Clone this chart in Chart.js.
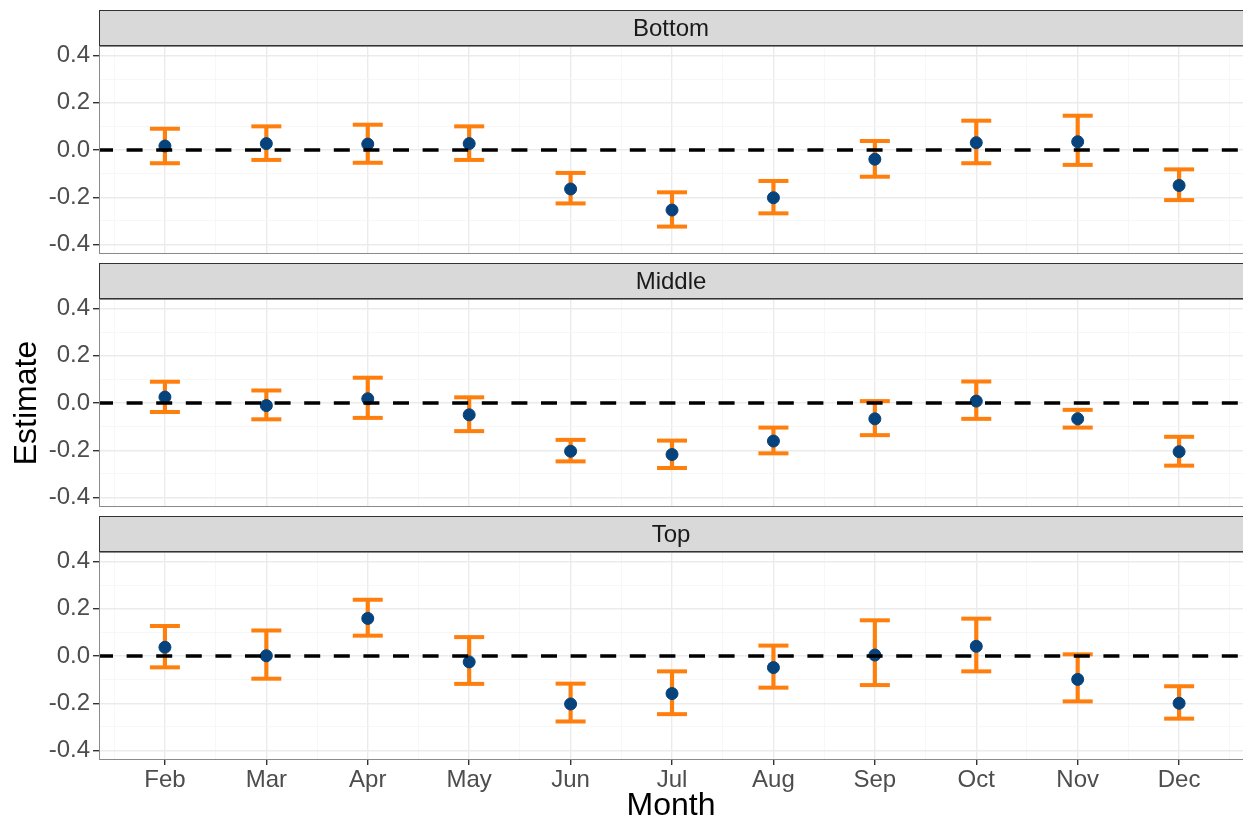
<!DOCTYPE html>
<html>
<head>
<meta charset="utf-8">
<script src="https://cdn.jsdelivr.net/npm/chart.js@4/dist/chart.umd.min.js"></script>
<style>
  body { margin: 0; background: #fff; overflow: hidden; }
  #wrap { position: relative; width: 1243px; height: 825px; }
  canvas { position: absolute; left: 0; }
</style>
</head>
<body>
<div id="wrap">
  <canvas id="p1" width="1243" height="256" style="top:0px"></canvas>
  <canvas id="p2" width="1243" height="256" style="top:253px"></canvas>
  <canvas id="p3" width="1243" height="319" style="top:506px"></canvas>
</div>
<script>
// data
const months = ['Feb','Mar','Apr','May','Jun','Jul','Aug','Sep','Oct','Nov','Dec'];
const monthNums = [2,3,4,5,6,7,8,9,10,11,12];

const bottomEst = [0.017, 0.027, 0.025, 0.027, -0.165, -0.254, -0.202, -0.039, 0.031, 0.035, -0.150];
const bottomLo  = [-0.056, -0.042, -0.054, -0.042, -0.226, -0.324, -0.268, -0.113, -0.056, -0.063, -0.212];
const bottomHi  = [0.090, 0.100, 0.107, 0.100, -0.097, -0.179, -0.131, 0.038, 0.124, 0.145, -0.082];

const middleEst = [0.025, -0.011, 0.018, -0.050, -0.204, -0.218, -0.161, -0.067, 0.008, -0.067, -0.206];
const middleLo  = [-0.038, -0.069, -0.063, -0.119, -0.247, -0.275, -0.213, -0.136, -0.067, -0.104, -0.265];
const middleHi  = [0.090, 0.053, 0.107, 0.024, -0.156, -0.159, -0.104, 0.008, 0.091, -0.029, -0.143];

const topEst = [0.037, 0.001, 0.159, -0.025, -0.203, -0.159, -0.049, 0.004, 0.041, -0.099, -0.200];
const topLo  = [-0.048, -0.096, 0.086, -0.118, -0.277, -0.246, -0.134, -0.123, -0.065, -0.192, -0.265];
const topHi  = [0.127, 0.108, 0.238, 0.080, -0.117, -0.065, 0.044, 0.151, 0.158, 0.007, -0.128];

const yMajor = [-0.4, -0.2, 0, 0.2, 0.4];
const yMinor = [-0.3, -0.1, 0.1, 0.3];

const ORANGE = '#ff7f0e';
const NAVY = '#06437c';
const FONT = "'Liberation Sans', Arial, sans-serif";

// strip + border + zero line
const facetDecor = {
  id: 'facetDecor',
  beforeDraw(chart, args, opts) {
    const {ctx, chartArea: {top, left, right}} = chart;
    ctx.save();
    ctx.fillStyle = '#d9d9d9';
    ctx.fillRect(left, top - 36, right - left + 2, 35);
    ctx.strokeStyle = '#333';
    ctx.lineWidth = 1;
    ctx.strokeRect(left + 0.5, top - 35.5, right - left + 2, 35);
    ctx.fillStyle = '#1a1a1a';
    ctx.font = '24px ' + FONT;
    ctx.textAlign = 'center';
    ctx.textBaseline = 'middle';
    ctx.fillText(opts.label, (left + right) / 2, top - 17);
    ctx.restore();
  },
  afterDatasetsDraw(chart) {
    const {ctx, chartArea: {left, right}, scales: {y}} = chart;
    const yy = y.getPixelForValue(0);
    ctx.save();
    ctx.beginPath();
    ctx.setLineDash([16, 13.6]);
    ctx.lineDashOffset = 2;
    ctx.lineWidth = 3.5;
    ctx.strokeStyle = '#000';
    ctx.moveTo(left, yy);
    ctx.lineTo(right, yy);
    ctx.stroke();
    ctx.restore();
  },
  afterDraw(chart) {
    const {ctx, chartArea: {top, bottom, left, right}} = chart;
    ctx.save();
    ctx.strokeStyle = '#8a8a8a';
    ctx.lineWidth = 1;
    ctx.strokeRect(left + 0.5, top + 0.5, right - left + 2, bottom - top - 1);
    ctx.restore();
  }
};

function isMajorY(v) { return yMajor.some(m => Math.abs(m - v) < 1e-9); }
function tickVal(c) { return c.tick ? c.tick.value : NaN; }

function makePanel(id, label, est, lo, hi, opts) {
  const xTicks = [];
  monthNums.forEach(m => { xTicks.push(m - 0.5); xTicks.push(m); });
  xTicks.push(monthNums[monthNums.length - 1] + 0.5);

  return new Chart(document.getElementById(id), {
    type: 'scatter',
    data: {
      datasets: [
        {
          label: 'est',
          data: monthNums.map((m, i) => ({x: m, y: est[i]})),
          backgroundColor: NAVY,
          borderColor: NAVY,
          pointRadius: 6,
          order: 0
        },
        {
          label: 'upper',
          data: monthNums.map((m, i) => ({x: m, y: hi[i]})),
          pointStyle: 'line',
          pointRadius: 15,
          borderWidth: 4,
          borderColor: ORANGE,
          order: 1
        },
        {
          label: 'lower',
          data: monthNums.map((m, i) => ({x: m, y: lo[i]})),
          pointStyle: 'line',
          pointRadius: 15,
          borderWidth: 4,
          borderColor: ORANGE,
          order: 1
        },
        {
          type: 'bar',
          label: 'ci',
          data: monthNums.map((m, i) => ({x: m, y: [lo[i], hi[i]]})),
          backgroundColor: ORANGE,
          barThickness: 3.5,
          order: 2
        }
      ]
    },
    options: {
      responsive: false,
      animation: false,
      events: [],
      layout: { autoPadding: false, padding: { top: 46, left: 0, right: 0, bottom: 0 } },
      plugins: {
        legend: { display: false },
        tooltip: { enabled: false },
        facetDecor: { label: label }
      },
      scales: {
        x: {
          type: 'linear',
          offset: false,
          min: 1.35,
          max: 12.63,
          afterBuildTicks: s => { s.ticks = xTicks.map(v => ({value: v})); },
          afterFit: s => { s.height = opts.xHeight; s.paddingLeft = 0; s.paddingRight = 0; },
          border: { display: false },
          grid: {
            offset: false,
            color: c => Number.isInteger(tickVal(c)) ? '#ebebeb' : '#f5f5f5',
            lineWidth: c => Number.isInteger(tickVal(c)) ? 1.4 : 0.8,
            tickColor: c => Number.isInteger(tickVal(c)) ? '#333' : 'rgba(0,0,0,0)',
            tickLength: 5,
            drawTicks: opts.showX
          },
          ticks: {
            display: opts.showX,
            autoSkip: false,
            maxRotation: 0,
            padding: 1,
            color: '#4d4d4d',
            font: { family: FONT, size: 24 },
            callback: v => Number.isInteger(v) ? months[monthNums.indexOf(v)] : ''
          },
          title: {
            display: opts.showX,
            text: 'Month',
            color: '#000',
            font: { family: FONT, size: 32 },
            padding: { top: 0, bottom: 0 }
          }
        },
        y: {
          min: -0.44,
          max: 0.44,
          afterBuildTicks: s => {
            s.ticks = yMajor.concat(yMinor).sort((a, b) => a - b).map(v => ({value: v}));
          },
          afterFit: s => { s.width = 99; s.paddingTop = 0; s.paddingBottom = 0; },
          border: { display: false },
          grid: {
            color: c => isMajorY(tickVal(c)) ? '#ebebeb' : '#f5f5f5',
            lineWidth: c => isMajorY(tickVal(c)) ? 1.4 : 0.8,
            tickColor: c => isMajorY(tickVal(c)) ? '#333' : 'rgba(0,0,0,0)',
            tickLength: 6
          },
          ticks: {
            autoSkip: false,
            padding: 3,
            color: '#4d4d4d',
            font: { family: FONT, size: 24 },
            callback: v => isMajorY(v) ? v.toFixed(1) : ''
          },
          title: {
            display: opts.showY,
            text: 'Estimate',
            color: '#000',
            font: { family: FONT, size: 32 },
            padding: { top: 8, bottom: 0 }
          }
        }
      }
    },
    plugins: [facetDecor]
  });
}

makePanel('p1', 'Bottom', bottomEst, bottomLo, bottomHi, { showX: false, showY: false, xHeight: 2 });
makePanel('p2', 'Middle', middleEst, middleLo, middleHi, { showX: false, showY: true, xHeight: 2 });
makePanel('p3', 'Top', topEst, topLo, topHi, { showX: true, showY: false, xHeight: 65 });
</script>
</body>
</html>
